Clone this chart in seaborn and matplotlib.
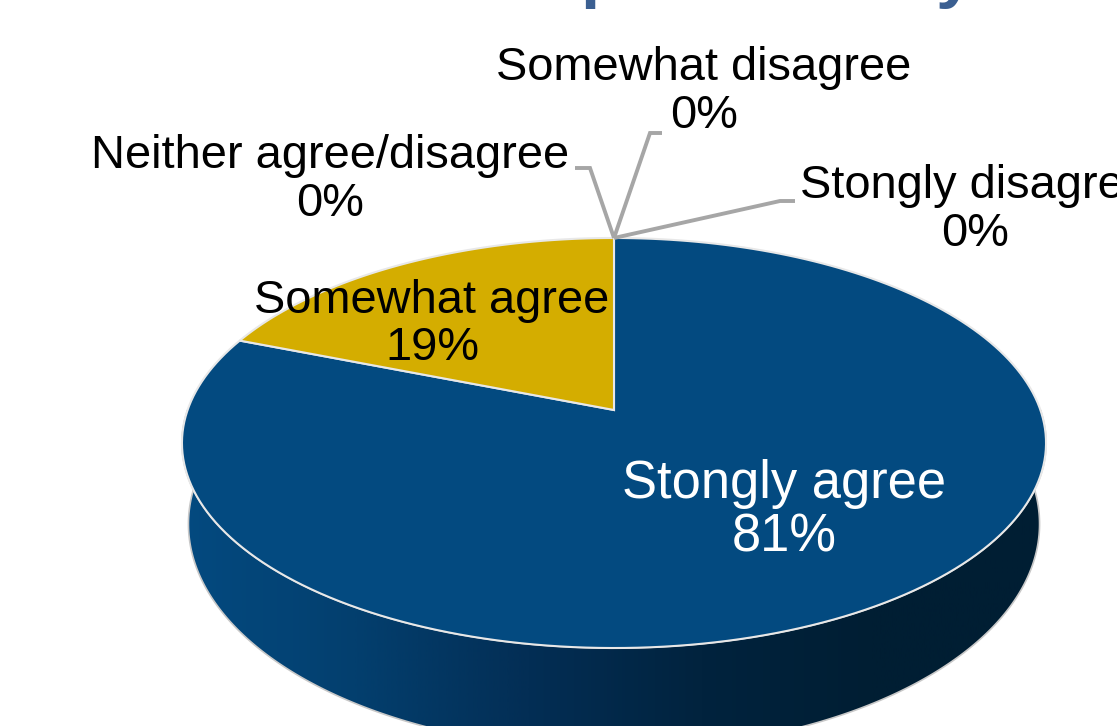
import numpy as np
import seaborn as sns
import matplotlib.pyplot as plt
from matplotlib.patches import Polygon

# Survey responses, in percent
categories = ["Stongly agree", "Somewhat agree", "Neither agree/disagree",
              "Somewhat disagree", "Stongly disagree"]
values = [81, 19, 0, 0, 0]
slice_colors = ["#034a80", "#d4ad00", "#a6a6a6", "#a6a6a6", "#a6a6a6"]
wall_stops = ["#044a80", "#033f6e", "#032e55", "#01233e", "#001e33", "#001e33"]
text_colors = ["white", "black", "black", "black", "black"]

sns.set_theme(style="white")
plt.rcParams["font.family"] = ["Liberation Sans", "DejaVu Sans"]

W, H = 1117, 726
fig = plt.figure(figsize=(W / 100, H / 100), dpi=100)
ax = fig.add_axes([0, 0, 1, 1])
ax.set_xlim(0, W)
ax.set_ylim(H, 0)
ax.axis("off")

# Perspective view of the unit disc
CX, CY = 614.0, 410.0
A, B, K = 426.4, 199.7, 0.161


def project(u, v):
    d = 1 + K * v
    return CX + A * u / d, CY - B * v / d


def rim(start, stop, n=200):
    """Rim points between two clockwise angles measured from 12 o'clock."""
    t = np.radians(np.linspace(start, stop, n))
    return np.column_stack(project(np.sin(t), np.cos(t)))


# Side wall: front half of the rim extruded downward, shaded left to right
front = rim(90, 270, 300)
x_r, x_l = front[:, 0].max(), front[:, 0].min()
lower = front.copy()
lower[:, 0] = 614.5 + (front[:, 0] - 614.5) * 0.985
lower[:, 1] = 524.0 + (front[:, 1] - 443.0) * 226.0 / 205.0
wall = np.vstack([front, lower[::-1]])
wall_patch = Polygon(wall, closed=True, facecolor="none", edgecolor="#c8c8c8",
                     lw=1.2, zorder=2)
ax.add_patch(wall_patch)
cmap = sns.blend_palette(wall_stops, as_cmap=True)
shade = ax.imshow(np.linspace(0, 1, 512)[None, :], cmap=cmap, aspect="auto",
                  extent=[x_l, x_r, H + 150, 300], zorder=1.5)
shade.set_clip_path(wall_patch)
ax.set_xlim(0, W)
ax.set_ylim(H, 0)

# Top face: slices run clockwise, the first one starting at 12 o'clock
angle = 0.0
for value, color in zip(values, slice_colors):
    sweep = 360.0 * value / sum(values)
    if sweep > 0:
        outline = np.vstack([[CX, CY], rim(angle, angle + sweep)])
        ax.add_patch(Polygon(outline, closed=True, facecolor=color,
                             edgecolor="#e8e8e8", lw=1.5, zorder=3))
    angle += sweep

# Leader lines for the empty slices
top = project(0, 1)
leaders = [[(575, 168), (590, 168)], [(662, 133), (650, 133)], [(795, 201), (780, 201)]]
for (x0, y0), (x1, y1) in leaders:
    ax.plot([x0, x1, top[0]], [y0, y1, top[1]], color="#a6a6a6", lw=2.8,
            solid_joinstyle="miter", solid_capstyle="butt", zorder=4)

# Two-line labels: name above percentage
anchors = [(784, 498, 551, 37.8), (432, 313, 360, 33.8), (330, 168, 216, 33.8),
           (704, 80, 128, 33.8), (975, 198, 246, 33.8)]
for name, value, color, (x, y1, y2, size) in zip(categories, values, text_colors, anchors):
    ax.text(x, y1, name, ha="center", va="baseline", fontsize=size, color=color, zorder=5)
    ax.text(x, y2, f"{value}%", ha="center", va="baseline", fontsize=size, color=color, zorder=5)

# Descenders of the heading, cut off by the top edge
heading_color = "#3b5f91"
ax.text(580, -5, "p", ha="left", va="baseline", fontsize=50, fontweight="bold", color=heading_color)
ax.text(935, -5, "y", ha="left", va="baseline", fontsize=50, fontweight="bold", color=heading_color)

fig.savefig("out.png", dpi=100)
